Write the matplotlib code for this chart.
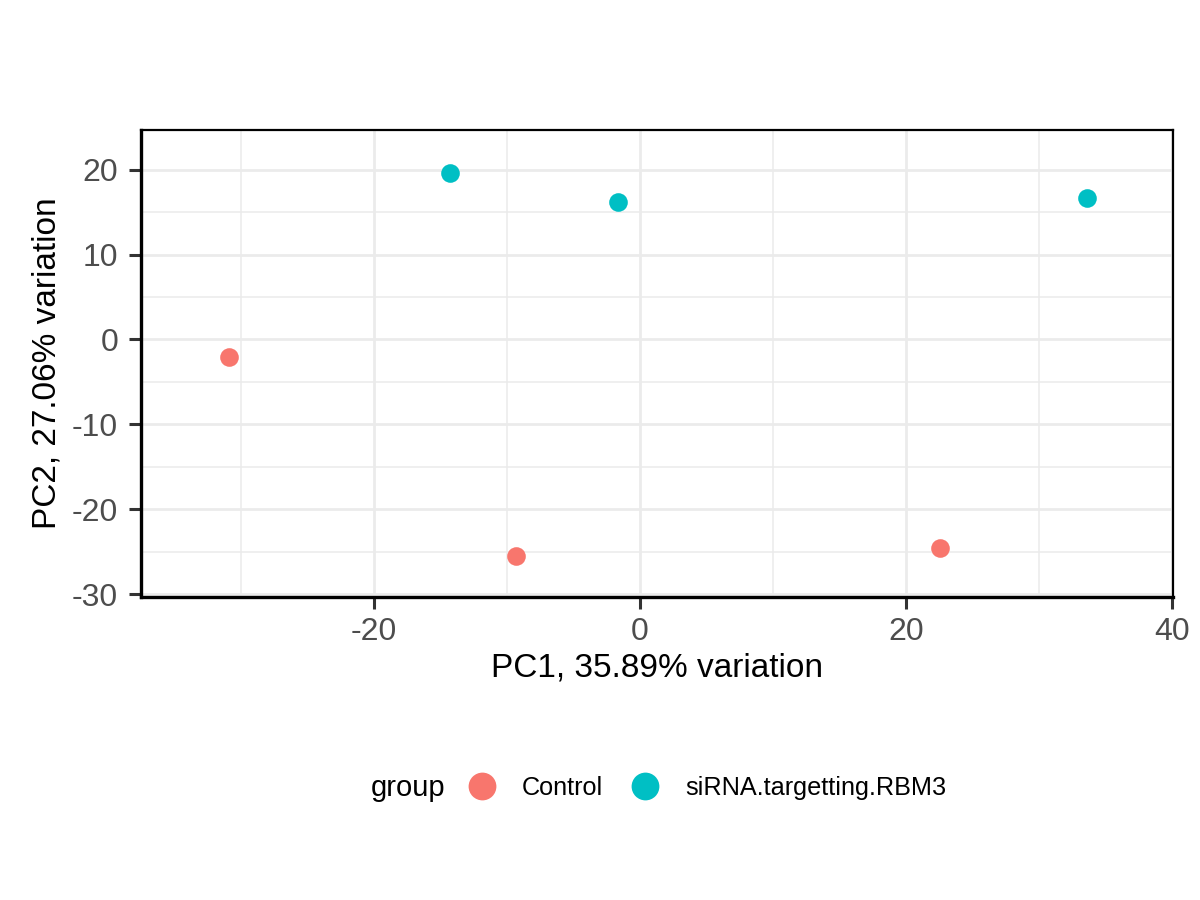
import matplotlib.pyplot as plt
from matplotlib.lines import Line2D
from matplotlib.ticker import MultipleLocator

plt.rcParams['font.family'] = ['Liberation Sans', 'DejaVu Sans']
plt.rcParams['axes.unicode_minus'] = False

# PCA scores
grupos = ["Control", "siRNA.targetting.RBM3"]
colores = ["#F8766D", "#00BFC4"]
pc1_control = [-30.9, -9.3, 22.6]
pc2_control = [-2.1, -25.5, -24.6]
pc1_sirna = [-14.3, -1.6, 33.6]
pc2_sirna = [19.6, 16.2, 16.7]

fig = plt.figure(figsize=(12, 9), dpi=100)
ax = fig.add_axes([0.1175, 0.3367, 0.86, 0.5189])

ax.scatter(pc1_control, pc2_control, s=180, color=colores[0], zorder=3, linewidths=0)
ax.scatter(pc1_sirna, pc2_sirna, s=180, color=colores[1], zorder=3, linewidths=0)

ax.set_xlim(-37.5, 40.1)
ax.set_ylim(-30.35, 24.7)
ax.xaxis.set_major_locator(MultipleLocator(20))
ax.xaxis.set_minor_locator(MultipleLocator(10))
ax.yaxis.set_major_locator(MultipleLocator(10))
ax.yaxis.set_minor_locator(MultipleLocator(5))

ax.grid(which='major', color='#ebebeb', linewidth=2.0)
ax.grid(which='minor', color='#ebebeb', linewidth=1.1)
ax.set_axisbelow(True)

for lado in ['top', 'right']:
    ax.spines[lado].set_linewidth(1.6)
for lado in ['left', 'bottom']:
    ax.spines[lado].set_linewidth(2.4)
for sp in ax.spines.values():
    sp.set_color('black')

ax.tick_params(which='major', length=8.5, width=2.2, color='#333333',
               labelcolor='#4d4d4d', labelsize=23, pad=6)
ax.tick_params(axis='y', which='major', pad=8)
ax.tick_params(which='minor', length=0)

ax.set_xlabel("PC1, 35.89% variation", fontsize=24, labelpad=4)
ax.set_ylabel("PC2, 27.06% variation", fontsize=24, labelpad=7)

# leyenda horizontal abajo
handles = [Line2D([], [], marker='o', linestyle='', markersize=20,
                  markerfacecolor=c, markeredgewidth=0) for c in colores]
fig.legend(handles, grupos, loc='center', bbox_to_anchor=(0.589, 0.1244),
           ncol=2, frameon=False, fontsize=18.2, handlelength=1.15,
           handletextpad=1.02, columnspacing=1.06)
fig.text(0.309, 0.1244, "group", fontsize=21, ha='left', va='center')

fig.savefig("out.png", dpi=100)
